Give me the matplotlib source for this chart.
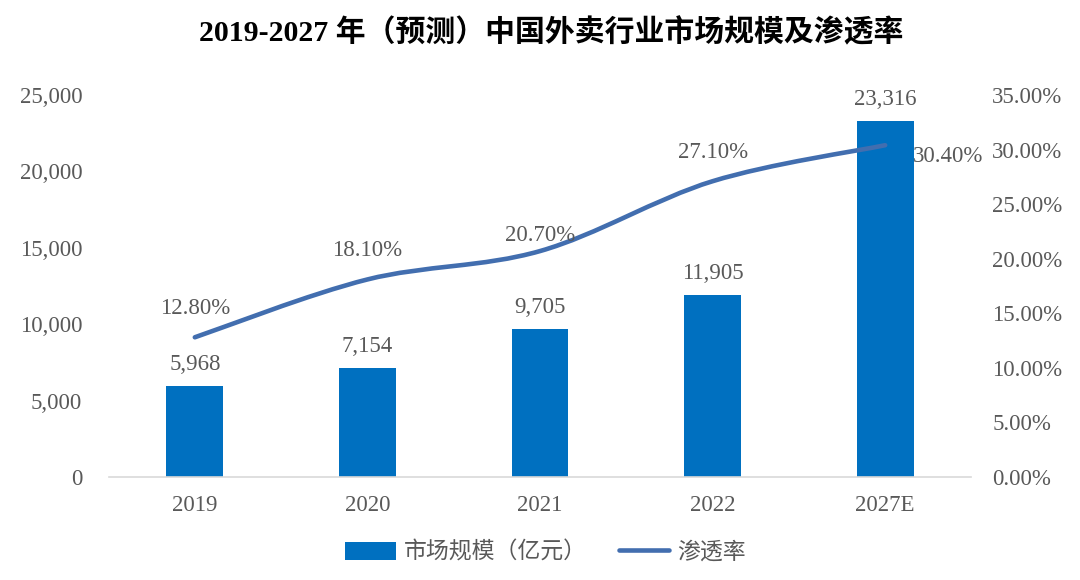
import numpy as np
import matplotlib.pyplot as plt
from matplotlib.path import Path
from matplotlib.patches import PathPatch
from matplotlib.lines import Line2D
from matplotlib.patches import Patch
from matplotlib.ticker import FuncFormatter

plt.rcParams['font.family'] = ['Liberation Serif', 'Noto Sans CJK SC']

# 数据
years = ["2019", "2020", "2021", "2022", "2027E"]
market = [5968, 7154, 9705, 11905, 23316]      # 市场规模（亿元）
rate = [12.80, 18.10, 20.70, 27.10, 30.40]     # 渗透率 %

title = "2019-2027 年（预测）中国外卖行业市场规模及渗透率"
bar_name = "市场规模（亿元）"
line_name = "渗透率"

bar_color = "#0070C0"
line_color = "#426EAF"
txt_color = "#595959"

fig = plt.figure(figsize=(10.8, 5.8), dpi=100)
ax = fig.add_axes([0.1005, 0.1776, 0.799, 0.6586])
ax2 = ax.twinx()

x = np.arange(len(years))
bars = ax.bar(x, market, width=0.33, color=bar_color, zorder=2)
ax.set_xlim(-0.5, len(years) - 0.5)
ax.set_ylim(0, 25000)
ax.set_yticks(np.arange(0, 25001, 5000))
ax.yaxis.set_major_formatter(FuncFormatter(lambda v, p: f"{v:,.0f}"))
ax.set_xticks(x)
ax.set_xticklabels(years)

ax2.set_ylim(0, 35)
ax2.set_yticks(np.arange(0, 35.01, 5))
ax2.yaxis.set_major_formatter(FuncFormatter(lambda v, p: f"{v:.2f}%"))

for a in (ax, ax2):
    for s in ["top", "left", "right", "bottom"]:
        a.spines[s].set_visible(False)
    a.tick_params(length=0, labelsize=16.5, labelcolor=txt_color)
ax.spines["bottom"].set_visible(True)
ax.spines["bottom"].set_color("#D9D9D9")
ax.spines["bottom"].set_linewidth(1.2)
ax.tick_params(axis="y", pad=19)
ax.tick_params(axis="x", pad=13)
ax2.tick_params(axis="y", pad=15)

# 平滑曲线 (贝塞尔)
pts = list(zip(x.astype(float), rate))
verts = [pts[0]]
codes = [Path.MOVETO]
n = len(pts)
for i in range(n - 1):
    p0 = np.array(pts[max(i - 1, 0)])
    p1 = np.array(pts[i])
    p2 = np.array(pts[i + 1])
    p3 = np.array(pts[min(i + 2, n - 1)])
    c1 = p1 + (p2 - p0) / 6
    c2 = p2 - (p3 - p1) / 6
    verts += [tuple(c1), tuple(c2), tuple(p2)]
    codes += [Path.CURVE4] * 3
ax2.add_patch(PathPatch(Path(verts, codes), facecolor="none", edgecolor=line_color,
                        lw=3.3, capstyle="round", zorder=3))

# 数据标签
for xi, v in zip(x, market):
    ax.annotate(f"{v:,}", (xi, v), xytext=(0, 8), textcoords="offset points",
                ha="center", va="bottom", fontsize=16.5, color=txt_color)
for i, (xi, r) in enumerate(zip(x, rate)):
    if i == n - 1:
        ax2.annotate(f"{r:.2f}%", (xi, r), xytext=(20, -8), textcoords="offset points",
                     ha="left", va="center", fontsize=16.5, color=txt_color)
    else:
        dy = 11 if i == 2 else 21
        ax2.annotate(f"{r:.2f}%", (xi, r), xytext=(0, dy), textcoords="offset points",
                     ha="center", va="center", fontsize=16.5, color=txt_color)

fig.text(0.51, 0.944, title, ha="center", va="center", fontsize=21.5,
         fontweight="bold", color="black")

handles = [Patch(facecolor=bar_color, edgecolor="none"),
           Line2D([0], [0], color=line_color, lw=3.3, solid_capstyle="round")]
leg = fig.legend(handles, [bar_name, line_name], loc="center", bbox_to_anchor=(0.505, 0.047),
                 ncol=2, frameon=False, fontsize=16.5, handlelength=2.2, handleheight=0.8,
                 columnspacing=1.4, handletextpad=0.35)
for t in leg.get_texts():
    t.set_color(txt_color)

fig.savefig("out.png", dpi=100)
